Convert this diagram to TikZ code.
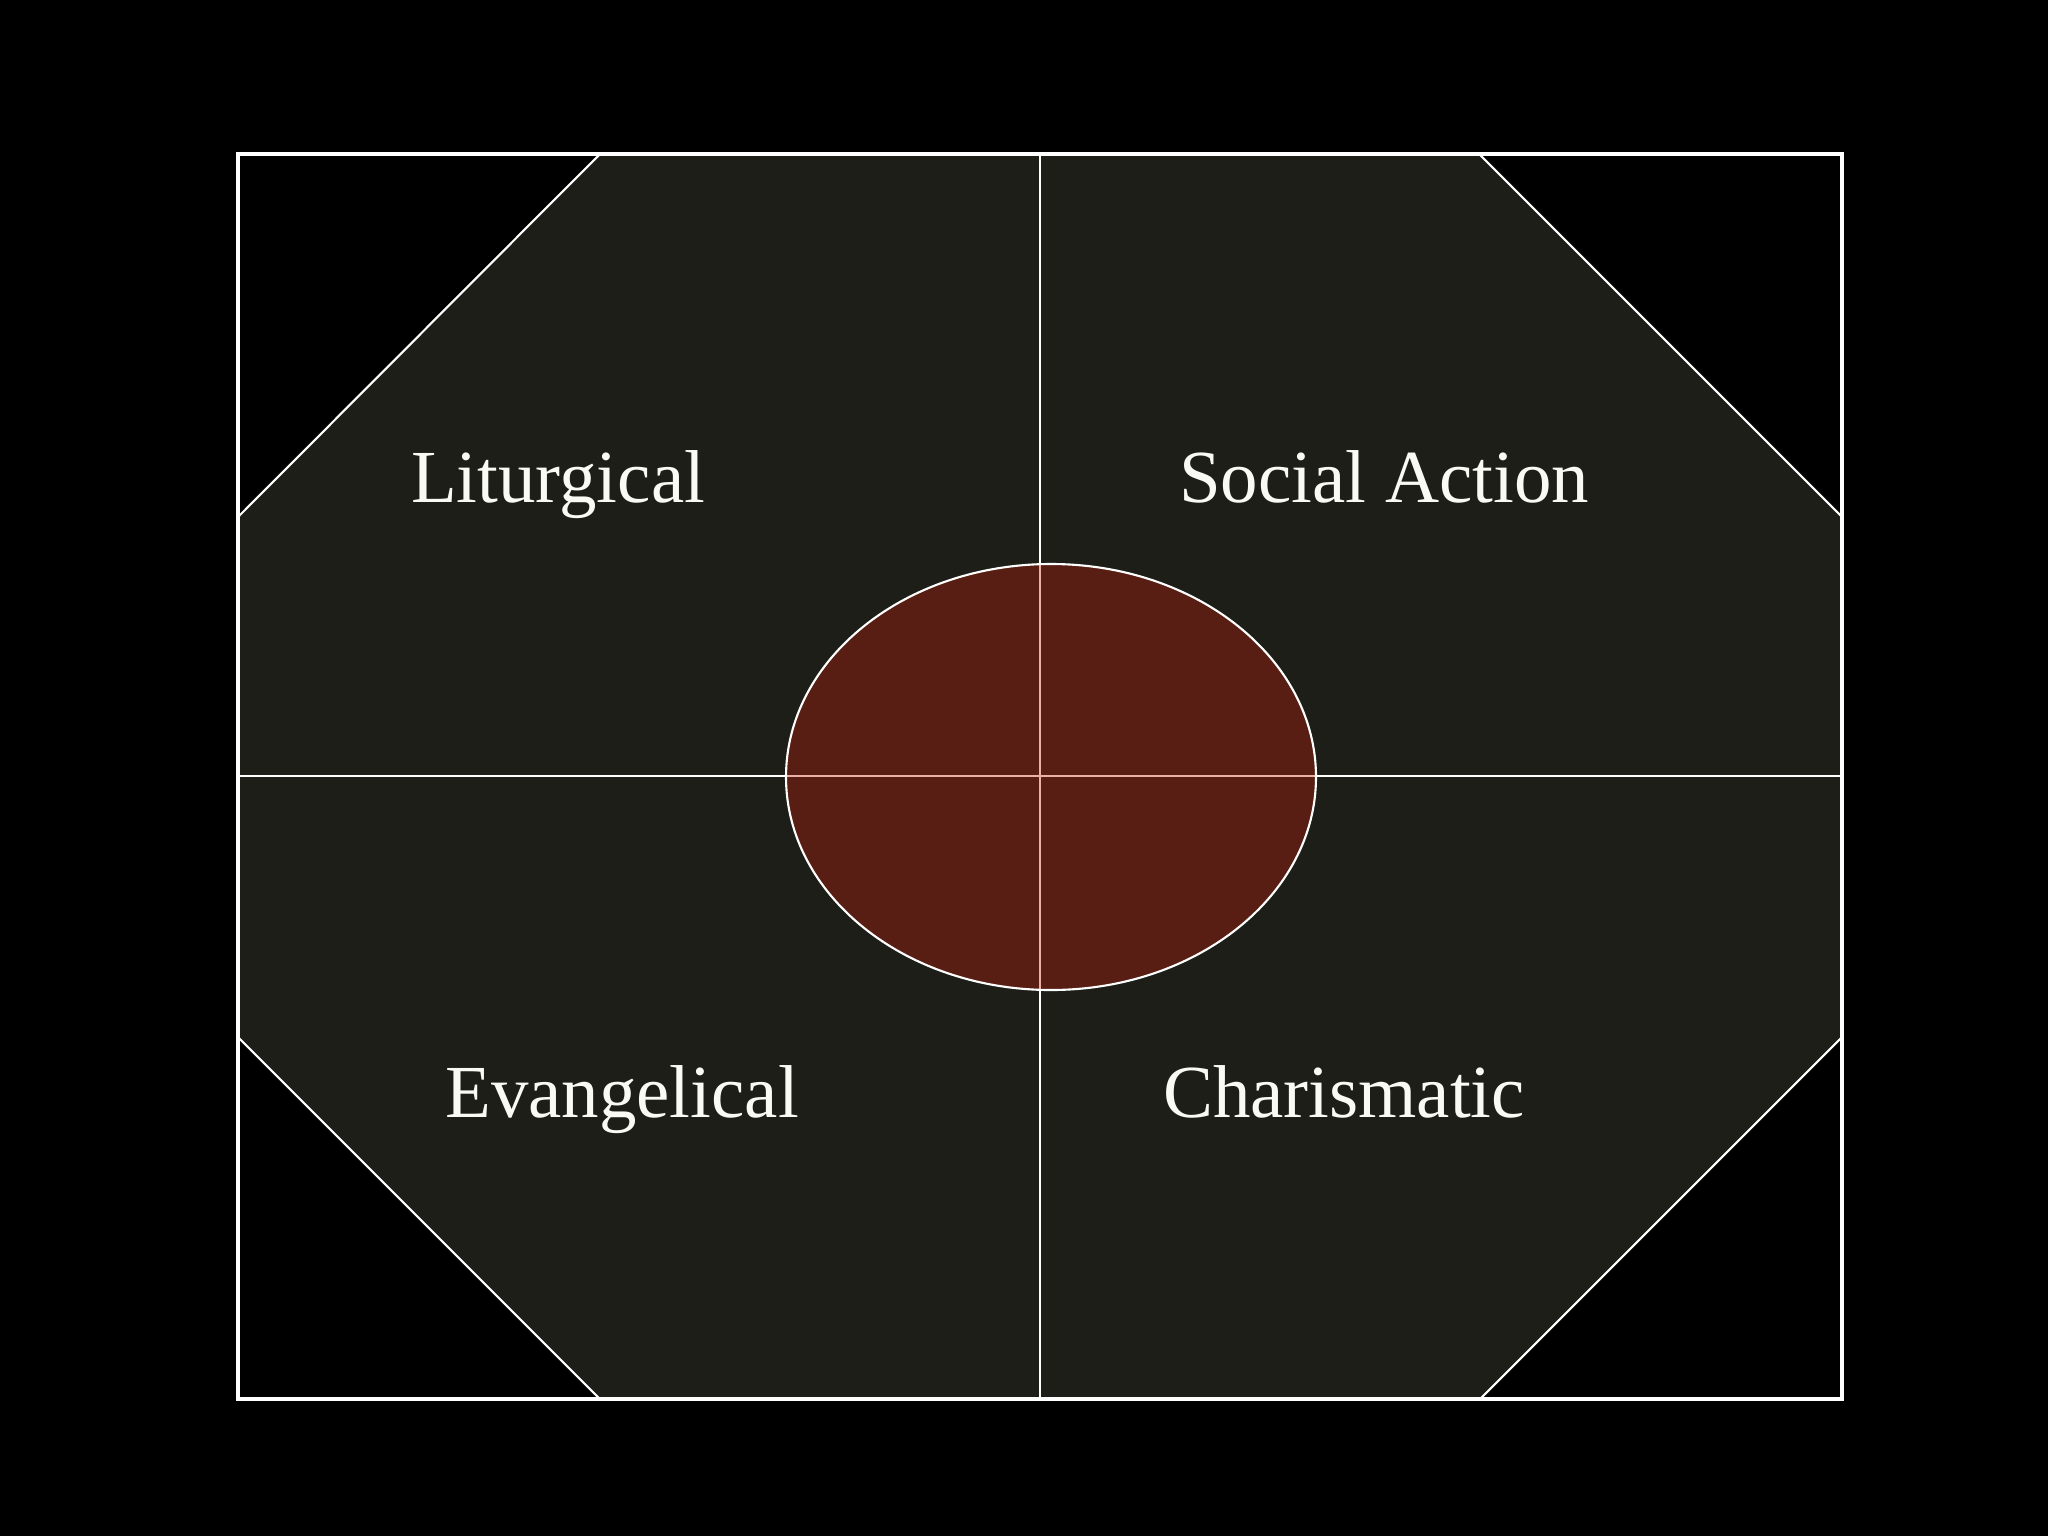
\documentclass[tikz,border=0pt]{standalone}
\usepackage{fontspec}
\setmainfont{Liberation Serif}
\definecolor{octfill}{RGB}{30,30,25}
\definecolor{ellred}{RGB}{200,30,8}
\definecolor{txtwhite}{RGB}{250,250,245}
\tikzset{
  frame/.style={draw=white, line width=1.4pt},
  thinline/.style={draw=white, line width=0.6pt},
  label/.style={anchor=base, text=txtwhite, font=\fontsize{21.3}{24}\selectfont, inner sep=0pt}
}
\begin{document}
\begin{tikzpicture}[x=0.01cm, y=-0.01cm]
\fill[black] (0,0) rectangle (2048,1536);
\useasboundingbox (0,0) rectangle (2048,1536);
% octagon
\fill[octfill] (600,154) -- (1479,154) -- (1842,517) -- (1842,1037) -- (1480,1399) -- (600,1399) -- (238,1037) -- (238,517) -- cycle;
\draw[thinline] (600,154) -- (238,517);
\draw[thinline] (1479,154) -- (1842,517);
\draw[thinline] (238,1037) -- (600,1399);
\draw[thinline] (1842,1037) -- (1480,1399);
% cross
\draw[thinline] (1040,154) -- (1040,1399);
\draw[thinline] (238,776) -- (1842,776);
% ellipse
\fill[ellred, fill opacity=0.35] (1051,777) ellipse [x radius=265, y radius=213];
\draw[thinline] (1051,777) ellipse [x radius=265, y radius=213];
% frame
\draw[frame] (238,154) rectangle (1842,1399);
% labels
\node[label] (lit) at (558,502) {Liturgical};
\node[label] (soc) at (1384,502) {Social Action};
\node[label] (eva) at (622,1117) {Evangelical};
\node[label] (cha) at (1344,1117) {Charismatic};
\end{tikzpicture}
\end{document}
